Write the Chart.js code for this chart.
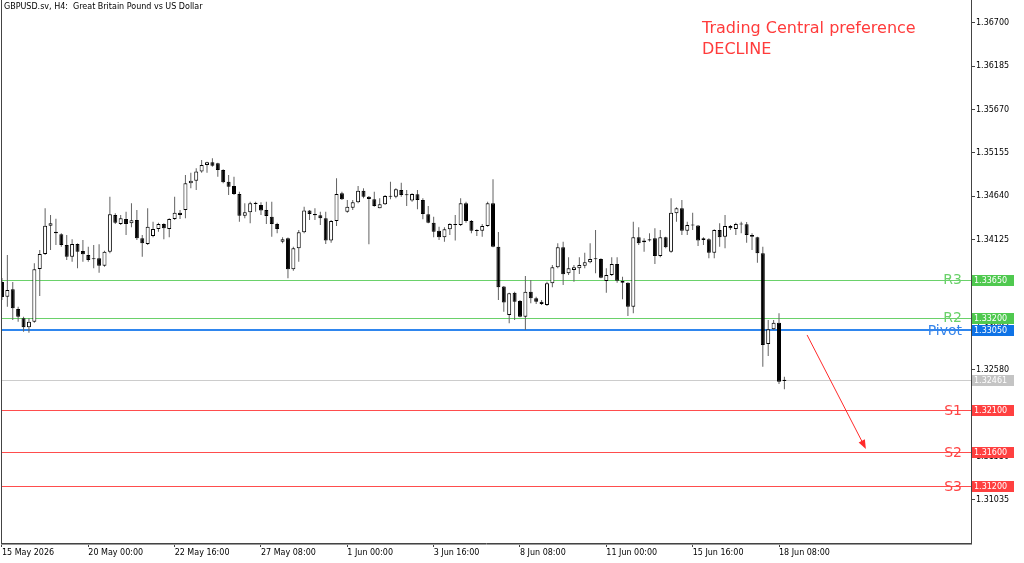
<!DOCTYPE html>
<html>
<head>
<meta charset="utf-8">
<script src="https://cdn.jsdelivr.net/npm/chart.js@4.4.1/dist/chart.umd.min.js"></script>
<style>
  html, body { margin: 0; padding: 0; background: #fff; }
  #wrap { width: 1024px; height: 563px; }
</style>
</head>
<body>
<div id="wrap"><canvas id="chart" width="1024" height="563"></canvas></div>
<script>
// GBPUSD H4 candles, 15 May 2026 .. 18 Jun 2026
const opens = [
  1.33622, 1.33448, 1.33535, 1.33302, 1.33191, 1.33084, 1.33151, 1.33777, 1.33955, 1.34290,
  1.34219, 1.34188, 1.34061, 1.33922, 1.34073, 1.33990, 1.33943, 1.33903, 1.33903, 1.33816,
  1.33982, 1.34418, 1.34311, 1.34370, 1.34319, 1.34358, 1.34141, 1.34073, 1.34168, 1.34251,
  1.34311, 1.34251, 1.34370, 1.34445, 1.34477, 1.34794, 1.34825, 1.34932, 1.35011, 1.35043,
  1.35031, 1.34952, 1.34813, 1.34762, 1.34667, 1.34409, 1.34450, 1.34563, 1.34536, 1.34477,
  1.34397, 1.34311, 1.34101, 1.34141, 1.33773, 1.34022, 1.34212, 1.34469, 1.34429, 1.34414,
  1.34378, 1.34113, 1.34346, 1.34675, 1.34457, 1.34504, 1.34568, 1.34706, 1.34635, 1.34604,
  1.34497, 1.34544, 1.34643, 1.34635, 1.34714, 1.34663, 1.34588, 1.34663, 1.34596, 1.34426,
  1.34326, 1.34231, 1.34153, 1.34248, 1.34307, 1.34299, 1.34556, 1.34346, 1.34239, 1.34231,
  1.34287, 1.34556, 1.34041, 1.33567, 1.33230, 1.33495, 1.33397, 1.33210, 1.33507, 1.33429,
  1.33388, 1.33349, 1.33607, 1.33797, 1.34034, 1.33725, 1.33765, 1.33785, 1.33816, 1.33856,
  1.33895, 1.33895, 1.33634, 1.33705, 1.33836, 1.33634, 1.33614, 1.33329, 1.34153, 1.34093,
  1.34113, 1.34141, 1.33931, 1.34153, 1.33982, 1.34437, 1.34497, 1.34231, 1.34299, 1.34291,
  1.34141, 1.34129, 1.33970, 1.34239, 1.34160, 1.34287, 1.34251, 1.34311, 1.34307, 1.34180,
  1.34153, 1.33962, 1.32886, 1.33061, 1.33139, 1.32447
];
const highs = [
  1.33670, 1.33943, 1.33622, 1.33329, 1.33210, 1.33191, 1.33844, 1.34002, 1.34497, 1.34418,
  1.34374, 1.34200, 1.34180, 1.34129, 1.34080, 1.34121, 1.34041, 1.34061, 1.34070, 1.33994,
  1.34635, 1.34437, 1.34418, 1.34457, 1.34556, 1.34477, 1.34180, 1.34497, 1.34338, 1.34326,
  1.34320, 1.34378, 1.34635, 1.34477, 1.34892, 1.34920, 1.34972, 1.35070, 1.35050, 1.35090,
  1.35038, 1.34960, 1.34892, 1.34872, 1.34694, 1.34556, 1.34575, 1.34575, 1.34568, 1.34575,
  1.34575, 1.34326, 1.34153, 1.34150, 1.34041, 1.34239, 1.34516, 1.34477, 1.34497, 1.34457,
  1.34457, 1.34358, 1.34853, 1.34694, 1.34596, 1.34596, 1.34762, 1.34734, 1.34643, 1.34694,
  1.34616, 1.34655, 1.34813, 1.34734, 1.34801, 1.34714, 1.34675, 1.34714, 1.34616, 1.34524,
  1.34397, 1.34279, 1.34271, 1.34319, 1.34418, 1.34616, 1.34575, 1.34358, 1.34248, 1.34311,
  1.34575, 1.34841, 1.34216, 1.33575, 1.33495, 1.33507, 1.33409, 1.33693, 1.33646, 1.33448,
  1.33409, 1.33626, 1.33824, 1.34082, 1.34101, 1.33915, 1.33824, 1.33915, 1.33970, 1.34082,
  1.34239, 1.33903, 1.33785, 1.33915, 1.33915, 1.33685, 1.33620, 1.34338, 1.34271, 1.34141,
  1.34200, 1.34259, 1.34239, 1.34160, 1.34616, 1.34509, 1.34596, 1.34338, 1.34445, 1.34299,
  1.34153, 1.34141, 1.34248, 1.34319, 1.34418, 1.34299, 1.34326, 1.34338, 1.34334, 1.34200,
  1.34160, 1.34041, 1.33171, 1.33171, 1.33250, 1.32498
];
const lows = [
  1.33409, 1.33329, 1.33171, 1.33151, 1.33032, 1.33020, 1.33139, 1.33456, 1.33943, 1.34002,
  1.34061, 1.34041, 1.33883, 1.33863, 1.33785, 1.33863, 1.33863, 1.33785, 1.33732, 1.33804,
  1.33962, 1.34311, 1.34299, 1.34180, 1.34271, 1.34121, 1.33922, 1.34061, 1.34153, 1.34219,
  1.34129, 1.34153, 1.34358, 1.34370, 1.34378, 1.34734, 1.34714, 1.34920, 1.34920, 1.34991,
  1.34872, 1.34794, 1.34655, 1.34655, 1.34338, 1.34378, 1.34319, 1.34457, 1.34418, 1.34311,
  1.34160, 1.34200, 1.34082, 1.33666, 1.33756, 1.33863, 1.34200, 1.34358, 1.34358, 1.34299,
  1.34073, 1.34089, 1.34287, 1.34596, 1.34445, 1.34477, 1.34556, 1.34616, 1.34070, 1.34516,
  1.34497, 1.34536, 1.34604, 1.34616, 1.34635, 1.34524, 1.34575, 1.34485, 1.34366, 1.34319,
  1.34153, 1.34121, 1.34101, 1.34180, 1.34113, 1.34287, 1.34326, 1.34200, 1.34168, 1.34160,
  1.34279, 1.34034, 1.33409, 1.33270, 1.33132, 1.33171, 1.33203, 1.33052, 1.33369, 1.33361,
  1.33349, 1.33337, 1.33559, 1.33785, 1.33587, 1.33705, 1.33626, 1.33717, 1.33785, 1.33844,
  1.33725, 1.33666, 1.33495, 1.33693, 1.33614, 1.33417, 1.33219, 1.33251, 1.34061, 1.33982,
  1.34101, 1.33836, 1.33915, 1.34022, 1.33970, 1.34338, 1.34180, 1.34180, 1.34239, 1.34050,
  1.34061, 1.33903, 1.33903, 1.34041, 1.34022, 1.34239, 1.34180, 1.34200, 1.34089, 1.34002,
  1.33851, 1.32617, 1.32744, 1.33052, 1.32411, 1.32348
];
const closes = [
  1.33444, 1.33527, 1.33310, 1.33210, 1.33084, 1.33151, 1.33773, 1.33955, 1.34290, 1.34319,
  1.34200, 1.34061, 1.33922, 1.34073, 1.33982, 1.33951, 1.33883, 1.33891, 1.33816, 1.33982,
  1.34426, 1.34326, 1.34378, 1.34311, 1.34355, 1.34141, 1.34082, 1.34279, 1.34251, 1.34311,
  1.34260, 1.34370, 1.34445, 1.34418, 1.34794, 1.34825, 1.34932, 1.35011, 1.35043, 1.35003,
  1.34952, 1.34806, 1.34753, 1.34667, 1.34409, 1.34450, 1.34556, 1.34548, 1.34469, 1.34405,
  1.34311, 1.34251, 1.34129, 1.33773, 1.34022, 1.34212, 1.34469, 1.34429, 1.34414, 1.34378,
  1.34113, 1.34346, 1.34667, 1.34604, 1.34516, 1.34568, 1.34706, 1.34635, 1.34607, 1.34524,
  1.34544, 1.34643, 1.34635, 1.34723, 1.34655, 1.34651, 1.34667, 1.34596, 1.34429, 1.34326,
  1.34219, 1.34153, 1.34248, 1.34311, 1.34299, 1.34556, 1.34346, 1.34231, 1.34227, 1.34287,
  1.34556, 1.34041, 1.33559, 1.33377, 1.33488, 1.33388, 1.33210, 1.33507, 1.33429, 1.33388,
  1.33361, 1.33607, 1.33797, 1.34034, 1.33714, 1.33785, 1.33797, 1.33824, 1.33856, 1.33895,
  1.33891, 1.33673, 1.33705, 1.33836, 1.33638, 1.33614, 1.33329, 1.34153, 1.34082, 1.34113,
  1.34129, 1.33931, 1.34153, 1.34034, 1.34445, 1.34497, 1.34231, 1.34299, 1.34291, 1.34113,
  1.34121, 1.33970, 1.34239, 1.34153, 1.34287, 1.34260, 1.34311, 1.34303, 1.34180, 1.34160,
  1.33962, 1.32874, 1.33061, 1.33139, 1.32439, 1.32461
];

// time axis: bar index -> label
const tickIdx = [0, 16, 32, 48, 64, 80, 96, 112, 128, 144];
const tickText = ['15 May 2026', '20 May 00:00', '22 May 16:00', '27 May 08:00', '1 Jun 00:00',
  '3 Jun 16:00', '8 Jun 08:00', '11 Jun 00:00', '15 Jun 16:00', '18 Jun 08:00'];

// price axis
const yTicks = [1.36700, 1.36185, 1.35670, 1.35155, 1.34640, 1.34125, 1.33610,
  1.33095, 1.32580, 1.32065, 1.31550, 1.31035];

// pivot levels
const levelNames = ['R3', 'R2', 'Pivot', 'S1', 'S2', 'S3'];
const levelValues = [1.33650, 1.33200, 1.33050, 1.32100, 1.31600, 1.31200];
const levelKinds = ['r', 'r', 'p', 's', 's', 's'];

// forecast arrow (bar index, price)
const arrowFrom = [149.2, 1.32993];
const arrowTo = [160.1, 1.31640];

const lastPrice = closes[closes.length - 1];

const lineColor = { r: '#6ad16a', p: '#2f86ee', s: '#ff4d4d' };
const textColor = { r: '#6ad16a', p: '#3584ea', s: '#ff4545' };
const boxColor = { r: '#4fc94f', p: '#0f73e6', s: '#ff4040' };

const FONT = '"DejaVu Sans", Verdana, sans-serif';

const bodies = opens.map((o, i) => ({ x: i, y: [o, closes[i]] }));
const wicks = lows.map((l, i) => ({ x: i, y: [l, highs[i]] }));
const bodyFill = opens.map((o, i) => closes[i] >= o ? '#ffffff' : '#000000');

function hline(ctx, area, py, color, width) {
  ctx.strokeStyle = color;
  ctx.lineWidth = width;
  const y = width % 2 ? Math.round(py) + 0.5 : Math.round(py);
  ctx.beginPath();
  ctx.moveTo(area.left, y);
  ctx.lineTo(area.right, y);
  ctx.stroke();
}

function priceBox(ctx, area, py, bg, text) {
  const top = Math.round(py) - 5;
  ctx.fillStyle = bg;
  ctx.fillRect(area.right + 1, top, 42, 11);
  ctx.fillStyle = '#ffffff';
  ctx.font = '8px ' + FONT;
  ctx.textAlign = 'left';
  ctx.textBaseline = 'middle';
  ctx.fillText(text, area.right + 3, top + 6);
}

const overlay = {
  id: 'overlay',
  beforeDatasetsDraw(chart) {
    const { ctx, chartArea: a, scales: { y } } = chart;
    ctx.save();
    hline(ctx, a, y.getPixelForValue(lastPrice), '#cccccc', 1);
    levelValues.forEach((v, i) => {
      const k = levelKinds[i];
      hline(ctx, a, y.getPixelForValue(v), lineColor[k], k === 'p' ? 2 : 1);
    });
    ctx.restore();
  },
  afterDraw(chart) {
    const { ctx, chartArea: a, scales: { x, y } } = chart;
    ctx.save();

    // frame
    ctx.lineWidth = 1;
    ctx.strokeStyle = '#444';
    ctx.beginPath();
    ctx.moveTo(1.5, 0); ctx.lineTo(1.5, a.bottom);
    ctx.moveTo(a.right + 0.5, 0); ctx.lineTo(a.right + 0.5, a.bottom);
    ctx.moveTo(1, a.bottom - 0.5); ctx.lineTo(a.right + 1, a.bottom - 0.5);
    ctx.stroke();
    ctx.strokeStyle = '#999';
    ctx.beginPath();
    ctx.moveTo(1, a.bottom + 0.5); ctx.lineTo(a.right + 1, a.bottom + 0.5);
    ctx.stroke();

    // level names
    ctx.font = '14px ' + FONT;
    ctx.textAlign = 'right';
    ctx.textBaseline = 'middle';
    levelValues.forEach((v, i) => {
      ctx.fillStyle = textColor[levelKinds[i]];
      ctx.fillText(levelNames[i], a.right - 9, y.getPixelForValue(v) + 1);
    });

    // price boxes on the axis
    priceBox(ctx, a, y.getPixelForValue(lastPrice), '#c4c4c4', lastPrice.toFixed(5));
    levelValues.forEach((v, i) => {
      priceBox(ctx, a, y.getPixelForValue(v), boxColor[levelKinds[i]], v.toFixed(5));
    });

    // arrow
    const x1 = x.getPixelForValue(arrowFrom[0]), y1 = y.getPixelForValue(arrowFrom[1]);
    const x2 = x.getPixelForValue(arrowTo[0]), y2 = y.getPixelForValue(arrowTo[1]);
    const ang = Math.atan2(y2 - y1, x2 - x1);
    ctx.strokeStyle = '#ff2a2a';
    ctx.fillStyle = '#ff2a2a';
    ctx.lineWidth = 1;
    ctx.beginPath();
    ctx.moveTo(x1, y1);
    ctx.lineTo(x2 - 8 * Math.cos(ang), y2 - 8 * Math.sin(ang));
    ctx.stroke();
    ctx.beginPath();
    ctx.moveTo(x2, y2);
    ctx.lineTo(x2 - 9 * Math.cos(ang) + 3.5 * Math.sin(ang), y2 - 9 * Math.sin(ang) - 3.5 * Math.cos(ang));
    ctx.lineTo(x2 - 9 * Math.cos(ang) - 3.5 * Math.sin(ang), y2 - 9 * Math.sin(ang) + 3.5 * Math.cos(ang));
    ctx.closePath();
    ctx.fill();

    // captions
    ctx.textAlign = 'left';
    ctx.textBaseline = 'alphabetic';
    ctx.fillStyle = '#000';
    ctx.font = '8px ' + FONT;
    ctx.fillText('GBPUSD.sv, H4:  Great Britain Pound vs US Dollar', 4, 9);
    ctx.fillStyle = '#ff3b3b';
    ctx.font = '16px ' + FONT;
    ctx.fillText('Trading Central preference', 702, 33);
    ctx.fillText('DECLINE', 702, 54);

    ctx.restore();
  }
};

const ctx = document.getElementById('chart').getContext('2d');
const chart = new Chart(ctx, {
  type: 'bar',
  data: {
    datasets: [{
      label: 'body',
      data: bodies,
      backgroundColor: bodyFill,
      borderColor: '#000',
      borderWidth: 1,
      borderSkipped: false,
      grouped: false,
      categoryPercentage: 1,
      barPercentage: 0.74,
      minBarLength: 1
    }, {
      label: 'wick',
      data: wicks,
      backgroundColor: '#666',
      borderWidth: 0,
      grouped: false,
      categoryPercentage: 1,
      barPercentage: 0.19
    }]
  },
  options: {
    responsive: false,
    animation: false,
    devicePixelRatio: 1,
    layout: { padding: { left: 1, top: 0, right: 0, bottom: 0 } },
    plugins: {
      legend: { display: false },
      tooltip: { enabled: false }
    },
    scales: {
      x: {
        type: 'linear',
        min: -0.178,
        max: 179.58,
        offset: false,
        border: { display: false },
        grid: { display: true, drawOnChartArea: false, drawTicks: true, tickLength: 3, color: '#444', offset: false },
        ticks: {
          autoSkip: false,
          maxRotation: 0,
          align: 'start',
          padding: 1,
          color: '#000',
          font: { family: FONT, size: 8 },
          callback: (v, i) => tickText[i]
        },
        afterBuildTicks: axis => { axis.ticks = tickIdx.map(v => ({ value: v })); },
        afterFit: axis => { axis.height = 19; axis.paddingLeft = 0; axis.paddingRight = 0; }
      },
      y: {
        type: 'linear',
        position: 'right',
        min: 1.30512,
        max: 1.36969,
        beginAtZero: false,
        border: { display: false },
        grid: { display: true, drawOnChartArea: false, drawTicks: true, tickLength: 4, color: '#444' },
        ticks: {
          autoSkip: false,
          padding: 1,
          color: '#000',
          font: { family: FONT, size: 8 },
          callback: v => Number(v).toFixed(5)
        },
        afterBuildTicks: axis => { axis.ticks = yTicks.map(v => ({ value: v })); },
        afterFit: axis => { axis.width = 53; axis.paddingTop = 0; axis.paddingBottom = 0; }
      }
    }
  },
  plugins: [overlay]
});
</script>
</body>
</html>
